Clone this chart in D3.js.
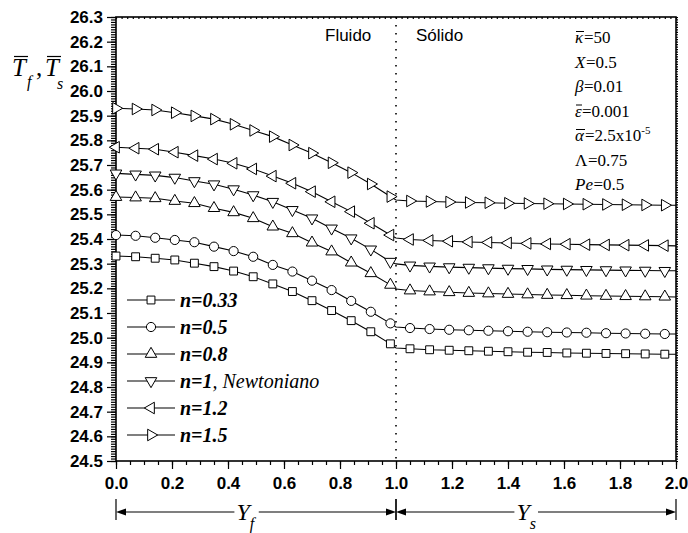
<!DOCTYPE html>
<html>
<head>
<meta charset="utf-8">
<script src="https://cdnjs.cloudflare.com/ajax/libs/d3/7.8.5/d3.min.js"></script>
<style>
	body { margin: 0; background: #fff; }
	svg { display: block; }
	.axis text { font-family: "Liberation Sans", Arial, sans-serif; font-weight: bold; font-size: 17px; fill: #000; }
	.axis line { stroke: #000; stroke-width: 1.2; }
	.axis path { display: none; }
</style>
</head>
<body>
<svg id="chart" width="688" height="533"></svg>
<script>
// x positions of the markers (fluid side, then solid side with the two end nodes 1.0 and 2.0)
var xFluid = [0, 0.07, 0.14, 0.21, 0.28, 0.35, 0.42, 0.49, 0.56, 0.63, 0.70, 0.77, 0.84, 0.91, 0.98];
var xSolid = [1.0, 1.05, 1.12, 1.19, 1.26, 1.33, 1.40, 1.47, 1.54, 1.61, 1.68, 1.75, 1.82, 1.89, 1.96, 2.0];

var seriesNames = ["n=0.33", "n=0.5", "n=0.8", "n=1", "n=1.2", "n=1.5"];
var seriesSymbols = ["square", "circle", "up", "down", "left", "right"];

var fluid033 = [25.331, 25.328, 25.322, 25.315, 25.302, 25.288, 25.270, 25.247, 25.218, 25.187, 25.150, 25.110, 25.069, 25.024, 24.975];
var fluid05  = [25.416, 25.413, 25.405, 25.396, 25.387, 25.369, 25.351, 25.328, 25.295, 25.268, 25.231, 25.193, 25.149, 25.105, 25.058];
var fluid08  = [25.570, 25.568, 25.565, 25.554, 25.545, 25.525, 25.508, 25.484, 25.450, 25.423, 25.385, 25.349, 25.304, 25.261, 25.214];
var fluid1   = [25.666, 25.662, 25.658, 25.649, 25.635, 25.622, 25.602, 25.578, 25.551, 25.518, 25.484, 25.443, 25.403, 25.358, 25.308];
var fluid12  = [25.772, 25.768, 25.764, 25.752, 25.738, 25.724, 25.707, 25.684, 25.655, 25.626, 25.592, 25.551, 25.511, 25.464, 25.416];
var fluid15  = [25.930, 25.927, 25.923, 25.912, 25.899, 25.886, 25.865, 25.840, 25.815, 25.781, 25.748, 25.709, 25.669, 25.623, 25.572];

var solid033 = [24.958, 24.955, 24.951, 24.949, 24.947, 24.945, 24.943, 24.941, 24.940, 24.938, 24.937, 24.936, 24.935, 24.934, 24.933, 24.933];
var solid05  = [25.043, 25.039, 25.035, 25.032, 25.030, 25.028, 25.026, 25.024, 25.022, 25.021, 25.020, 25.018, 25.017, 25.016, 25.015, 25.015];
var solid08  = [25.197, 25.191, 25.187, 25.184, 25.181, 25.179, 25.177, 25.175, 25.173, 25.172, 25.170, 25.169, 25.168, 25.167, 25.166, 25.165];
var solid1   = [25.299, 25.293, 25.289, 25.286, 25.284, 25.282, 25.280, 25.279, 25.277, 25.276, 25.275, 25.274, 25.273, 25.272, 25.271, 25.271];
var solid12  = [25.404, 25.398, 25.394, 25.391, 25.388, 25.386, 25.384, 25.382, 25.380, 25.379, 25.377, 25.376, 25.375, 25.374, 25.373, 25.372];
var solid15  = [25.558, 25.554, 25.552, 25.550, 25.548, 25.547, 25.545, 25.544, 25.543, 25.542, 25.541, 25.540, 25.539, 25.538, 25.537, 25.537];

var xTicks = [0.0, 0.2, 0.4, 0.6, 0.8, 1.0, 1.2, 1.4, 1.6, 1.8, 2.0];
var yTicks = [24.5, 24.6, 24.7, 24.8, 24.9, 25.0, 25.1, 25.2, 25.3, 25.4, 25.5, 25.6, 25.7, 25.8, 25.9, 26.0, 26.1, 26.2, 26.3];

var paramSymbols = ["\u03ba", "X", "\u03b2", "\u03b5", "\u03b1", "\u039b", "Pe"];
var paramValues = ["=50", "=0.5", "=0.01", "=0.001", "=2.5x10", " =0.75", " =0.5"];
var paramBar = [true, false, false, true, true, false, false];

var fluidData = [fluid033, fluid05, fluid08, fluid1, fluid12, fluid15];
var solidData = [solid033, solid05, solid08, solid1, solid12, solid15];

function drawChart() {
	var serif = '"Liberation Serif", "Times New Roman", serif',
		sans = '"Liberation Sans", Arial, sans-serif';

	var svg = d3.select("#chart"),
		pLeft = 116, pRight = 676, pTop = 17, pBottom = 461;

	var x = d3.scaleLinear().domain([0, 2]).range([pLeft, pRight]);
	var y = d3.scaleLinear().domain([24.5, 26.3]).range([pBottom, pTop]);

	// minor ticks
	var g = svg.append("g");
	g.append("g").attr("class", "axis")
		.attr("transform", "translate(0," + pBottom + ")")
		.call(d3.axisBottom(x).tickValues(d3.range(0, 2.001, 0.05)).tickSize(4).tickSizeOuter(0).tickFormat(""));
	g.append("g").attr("class", "axis")
		.attr("transform", "translate(" + pLeft + ",0)")
		.call(d3.axisLeft(y).tickValues(d3.range(24.5, 26.3001, 0.01)).tickSize(5).tickSizeOuter(0).tickFormat(""));
	g.append("g").attr("class", "axis")
		.attr("transform", "translate(0," + pTop + ")")
		.call(d3.axisBottom(x).tickValues(d3.range(0, 2.001, 0.02)).tickSize(2).tickSizeOuter(0).tickFormat(""));
	g.append("g").attr("class", "axis")
		.attr("transform", "translate(" + pRight + ",0)")
		.call(d3.axisRight(y).tickValues(d3.range(24.5, 26.3001, 0.01)).tickSize(2).tickSizeOuter(0).tickFormat(""));

	// major ticks with labels
	g.append("g").attr("class", "axis")
		.attr("transform", "translate(0," + pBottom + ")")
		.call(d3.axisBottom(x).tickValues(xTicks).tickSize(8).tickPadding(8).tickSizeOuter(0).tickFormat(d3.format(".1f")));
	g.append("g").attr("class", "axis")
		.attr("transform", "translate(" + pLeft + ",0)")
		.call(d3.axisLeft(y).tickValues(yTicks).tickSize(9).tickPadding(4).tickSizeOuter(0).tickFormat(d3.format(".1f")));

	// frame
	svg.append("rect")
		.attr("x", pLeft).attr("y", pTop)
		.attr("width", pRight - pLeft).attr("height", pBottom - pTop)
		.attr("fill", "none").attr("stroke", "#000").attr("stroke-width", 1.6);

	// interface
	svg.append("line")
		.attr("x1", x(1)).attr("x2", x(1))
		.attr("y1", y(26.3)).attr("y2", y(24.5))
		.attr("stroke", "#000").attr("stroke-width", 1.6)
		.attr("stroke-dasharray", "1.6,6.4");

	function symbolOf(type) {
		var s = d3.symbol().size(type == "square" ? 62 : type == "circle" ? 66 : 58);
		if (type == "square") s.type(d3.symbolSquare);
		else if (type == "circle") s.type(d3.symbolCircle);
		else s.type(d3.symbolTriangle);
		return s();
	}
	var rot = {square: 0, circle: 0, up: 0, down: 180, left: -90, right: 90};

	var line = d3.line()
		.x(function(d) { return x(d[0]); })
		.y(function(d) { return y(d[1]); });

	var curves = svg.append("g");
	seriesNames.forEach(function(name, s) {
		var pts = [], marks = [];
		for (var i = 0; i < xFluid.length; i++) {
			pts.push([xFluid[i], fluidData[s][i]]);
			marks.push([xFluid[i], fluidData[s][i]]);
		}
		for (var j = 0; j < xSolid.length; j++) {
			pts.push([xSolid[j], solidData[s][j]]);
			if (j > 0 && j < xSolid.length - 1) marks.push([xSolid[j], solidData[s][j]]);
		}
		var cg = curves.append("g");
		cg.append("path")
			.attr("d", line(pts))
			.attr("fill", "none").attr("stroke", "#000").attr("stroke-width", 1.1);
		cg.selectAll(".m")
			.data(marks)
			.enter().append("path")
			.attr("d", symbolOf(seriesSymbols[s]))
			.attr("transform", function(d) {
				return "translate(" + x(d[0]) + "," + y(d[1]) + ") rotate(" + rot[seriesSymbols[s]] + ")";
			})
			.attr("fill", "#fff").attr("stroke", "#000").attr("stroke-width", 1);
	});

	// legend
	var legend = svg.append("g");
	seriesNames.forEach(function(name, i) {
		var ly = 300 + 27 * i;
		legend.append("line")
			.attr("x1", 127).attr("x2", 175).attr("y1", ly).attr("y2", ly)
			.attr("stroke", "#000").attr("stroke-width", 1.1);
		legend.append("path")
			.attr("d", symbolOf(seriesSymbols[i]))
			.attr("transform", "translate(151," + ly + ") rotate(" + rot[seriesSymbols[i]] + ")")
			.attr("fill", "#fff").attr("stroke", "#000");
		var t = legend.append("text")
			.attr("x", 180).attr("y", ly + 7)
			.attr("font-family", serif).attr("font-size", 20)
			.attr("font-style", "italic").attr("font-weight", "bold")
			.text(name);
		if (name == "n=1") {
			t.append("tspan").attr("font-weight", "normal").text(", Newtoniano");
		}
	});

	// region names
	svg.append("text").attr("x", 325).attr("y", 41)
		.attr("font-family", sans).attr("font-size", 17).text("Fluido");
	svg.append("text").attr("x", 416).attr("y", 41)
		.attr("font-family", sans).attr("font-size", 17).text("S\u00f3lido");

	// parameters
	var pg = svg.append("g");
	paramSymbols.forEach(function(sym, i) {
		var py = 43 + 24.5 * i;
		var st = pg.append("text").attr("x", 575).attr("y", py)
			.attr("font-family", serif).attr("font-size", 17)
			.attr("font-style", sym == "\u039b" ? "normal" : "italic")
			.text(sym);
		var b = st.node().getBBox();
		if (paramBar[i]) {
			pg.append("line")
				.attr("x1", b.x + 1).attr("x2", b.x + b.width)
				.attr("y1", py - 11.5).attr("y2", py - 11.5)
				.attr("stroke", "#000").attr("stroke-width", 1);
		}
		var vt = pg.append("text").attr("x", b.x + b.width).attr("y", py)
			.attr("font-family", serif).attr("font-size", 17)
			.text(paramValues[i]);
		if (sym == "\u03b1") {
			vt.append("tspan").attr("dy", -7).attr("font-size", 11).text("-5");
		}
	});

	// y label
	function barred(gg, bx, by, str, size) {
		var t = gg.append("text").attr("x", bx).attr("y", by)
			.attr("font-family", serif).attr("font-size", size).attr("font-style", "italic")
			.text(str);
		var b = t.node().getBBox();
		gg.append("line")
			.attr("x1", b.x + 2).attr("x2", b.x + b.width)
			.attr("y1", by - size * 0.78).attr("y2", by - size * 0.78)
			.attr("stroke", "#000").attr("stroke-width", 1.2);
	}
	var yl = svg.append("g");
	barred(yl, 12, 76, "T", 25);
	yl.append("text").attr("x", 27).attr("y", 87).attr("font-family", serif)
		.attr("font-size", 16).attr("font-style", "italic").text("f");
	yl.append("text").attr("x", 36).attr("y", 76).attr("font-family", serif)
		.attr("font-size", 25).text(",");
	barred(yl, 45, 76, "T", 25);
	yl.append("text").attr("x", 57).attr("y", 89).attr("font-family", serif)
		.attr("font-size", 16).attr("font-style", "italic").text("s");

	// bottom brackets
	var domains = [[0, 1, "f"], [1, 2, "s"]];
	var br = svg.append("g");
	domains.forEach(function(d) {
		var a = x(d[0]), e = x(d[1]), ly = 512;
		[a, e].forEach(function(px) {
			br.append("line").attr("x1", px).attr("x2", px).attr("y1", 499).attr("y2", 520)
				.attr("stroke", "#000").attr("stroke-width", 1.2);
		});
		var tx = a + (e - a) * 0.43;
		var t = br.append("text").attr("x", tx).attr("y", 520)
			.attr("font-family", serif).attr("font-size", 24).attr("font-style", "italic")
			.text("Y");
		t.append("tspan").attr("dy", 9).attr("font-size", 16).text(d[2]);
		var b = t.node().getBBox();
		br.append("line").attr("x1", a + 6).attr("x2", b.x - 2).attr("y1", ly).attr("y2", ly)
			.attr("stroke", "#000").attr("stroke-width", 1.2);
		br.append("line").attr("x1", b.x + b.width + 2).attr("x2", e - 6).attr("y1", ly).attr("y2", ly)
			.attr("stroke", "#000").attr("stroke-width", 1.2);
		br.append("path")
			.attr("d", "M" + a + "," + ly + "l10,-3.5v7z").attr("fill", "#000");
		br.append("path")
			.attr("d", "M" + e + "," + ly + "l-10,-3.5v7z").attr("fill", "#000");
	});
}

drawChart();
</script>
</body>
</html>
